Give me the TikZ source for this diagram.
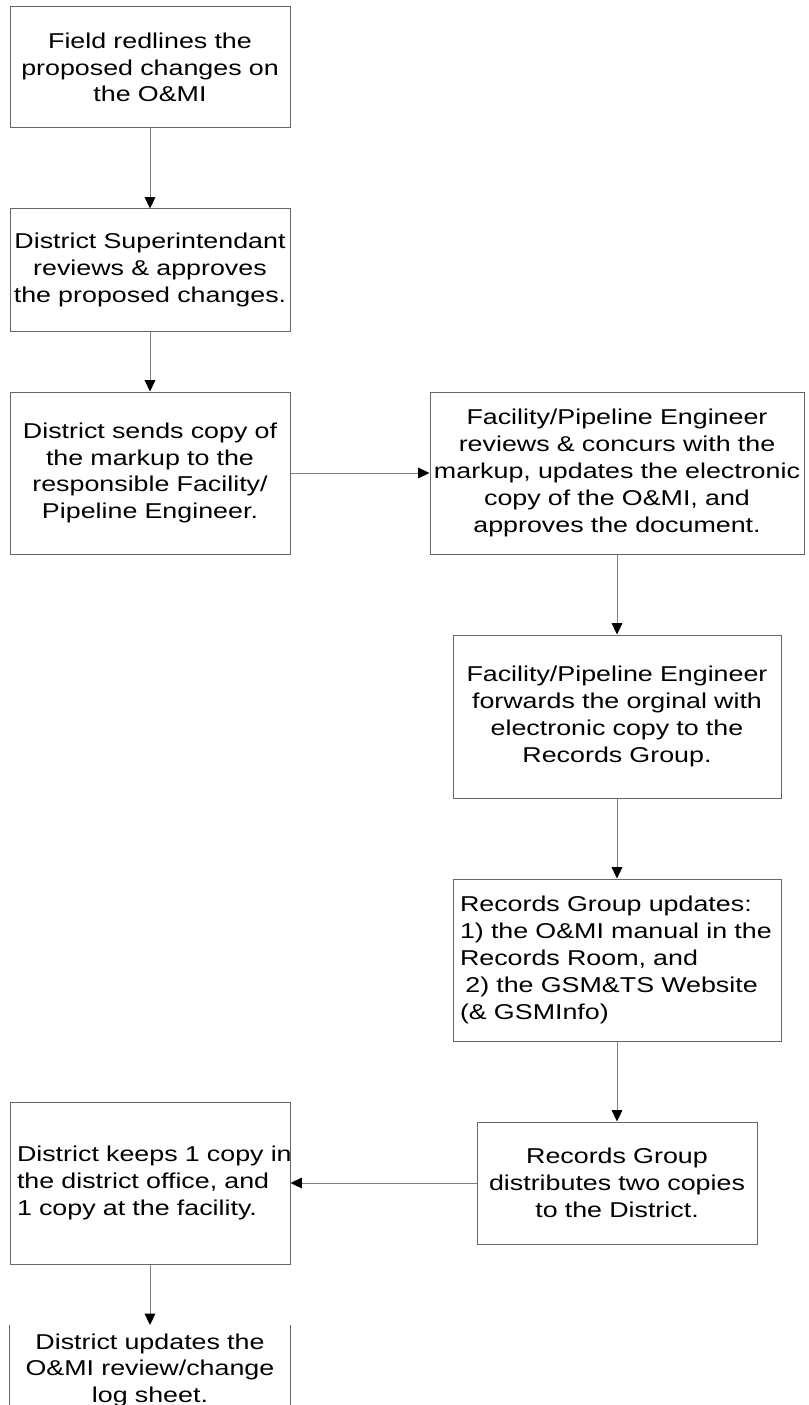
\documentclass[tikz,border=0pt]{standalone}
\usepackage{fontspec}
\setmainfont{Liberation Sans}[FakeStretch=1.25]
\usetikzlibrary{arrows.meta}
\definecolor{boxgray}{HTML}{666666}
\definecolor{linkgray}{HTML}{808080}
\tikzset{
  stepbox/.style={draw=boxgray, line width=0.75pt, rectangle, inner xsep=0pt, inner ysep=0pt,
    align=center, font=\fontsize{16.1}{20.1}\selectfont},
  leftbox/.style={stepbox, align=left, inner xsep=5.25pt},
  link/.style={draw=linkgray, line width=0.75pt, -{Triangle[length=8.5pt,width=8pt,color=black]}}
}
\begin{document}
\begin{tikzpicture}[x=0.75pt,y=-0.75pt]
\useasboundingbox (0,0) rectangle (809,1405);
\clip (0,0) rectangle (809,1405);
% left column
\node[stepbox, text width=210pt, minimum height=90.75pt] (field) at (150,67.5)
	{Field redlines the\\proposed changes on\\the O\&MI};
\node[stepbox, text width=210pt, minimum height=91.5pt] (super) at (150,270)
	{District Superintendant\\reviews \& approves\\the proposed changes.};
\node[stepbox, text width=210pt, minimum height=121.5pt] (sends) at (150,473)
	{District sends copy of\\the markup to the\\responsible Facility/\\Pipeline Engineer.};
% right column
\node[stepbox, text width=280.5pt, minimum height=121.5pt] (concur) at (617,473)
	{Facility/Pipeline Engineer\\reviews \& concurs with the\\markup, updates the electronic\\copy of the O\&MI, and\\approves the document.};
\node[stepbox, text width=246pt, minimum height=122.25pt] (forward) at (617,716.5)
	{Facility/Pipeline Engineer\\forwards the orginal with\\electronic copy to the\\Records Group.};
\node[leftbox, text width=235.5pt, minimum height=121.5pt] (update) at (617,960)
	{Records Group updates:\\1) the O\&MI manual in the\\Records Room, and\\\hspace*{0.25em}2) the GSM\&TS Website\\(\& GSMInfo)};
\node[stepbox, text width=210pt, minimum height=91.5pt] (distrib) at (617,1183)
	{Records Group\\distributes two copies\\to the District.};
% back to the left
\node[leftbox, text width=199.5pt, minimum height=121.5pt] (keeps) at (150,1183)
	{\mbox{District keeps 1 copy in}\\the district office, and\\1 copy at the facility.};
\node[stepbox, draw=none, text width=210pt, anchor=north, inner ysep=6pt] (logsheet) at (150,1325)
	{District updates the\\O\&MI review/change\\log sheet.};
\draw[boxgray, line width=0.75pt] (logsheet.north west) -- ++(0,100)
	(logsheet.north east) -- ++(0,100);
% connectors
\draw[link] (field) -- (super);
\draw[link] (super) -- (sends);
\draw[link] (sends) -- (concur);
\draw[link] (concur) -- (forward);
\draw[link] (forward) -- (update);
\draw[link] (update) -- (distrib);
\draw[link] (distrib) -- (keeps);
\draw[link] (keeps) -- (logsheet);
\end{tikzpicture}
\end{document}
